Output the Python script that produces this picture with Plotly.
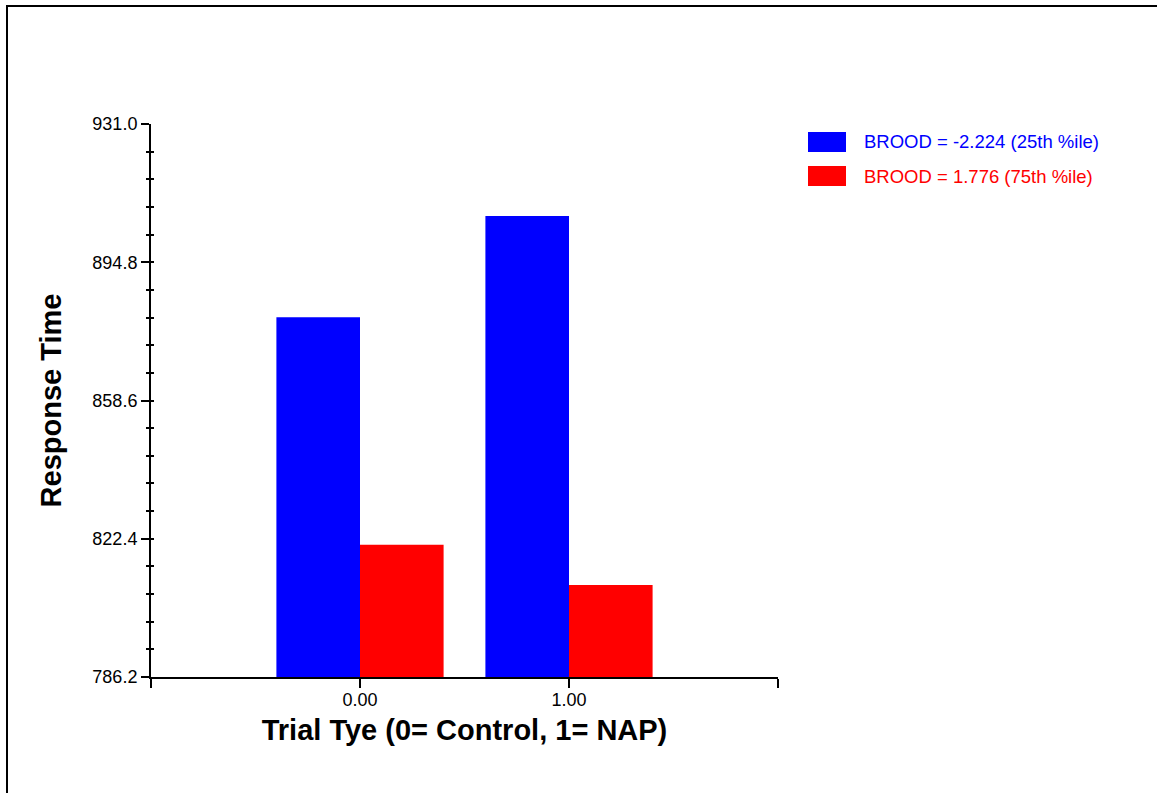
import plotly.graph_objects as go

# Data
trial_type = [0, 1]
tick_labels = ["0.00", "1.00"]
brood_low = [880.4, 906.9]    # BROOD = -2.224 (25th %ile)
brood_high = [820.8, 810.3]   # BROOD = 1.776 (75th %ile)
series_names = ["BROOD = -2.224 (25th %ile)", "BROOD = 1.776 (75th %ile)"]
series_colors = ["#0000FF", "#FF0000"]

y_min, y_max = 786.2, 931.0
y_step = (y_max - y_min) / 4

W, H = 1157, 793
L, R, T, B = 151, 379, 124, 116
FONT = "Arial, Liberation Sans, sans-serif"


def px_x(px):
    return (px - L) / (W - L - R)


def px_y(py):
    return (H - B - py) / (H - T - B)


fig = go.Figure()
for vals, name, col in zip([brood_low, brood_high], series_names, series_colors):
    fig.add_trace(go.Bar(x=trial_type, y=vals, name=name, marker_color=col,
                         marker_line_width=0, showlegend=False))

# invisible trace on the overlay axis so the inside ticks get drawn
fig.add_trace(go.Scatter(x=[trial_type[0]], y=[y_min], yaxis="y2", mode="markers",
                         marker=dict(opacity=0), showlegend=False, hoverinfo="skip"))

fig.update_layout(
    width=W, height=H,
    margin=dict(l=L, r=R, t=T, b=B),
    paper_bgcolor="white", plot_bgcolor="white",
    barmode="group", bargap=0.2, bargroupgap=0,
    font=dict(family=FONT, size=18, color="black"),
    xaxis=dict(
        range=[-1, 2], tickvals=[-1, 0, 1, 2], ticktext=[""] + tick_labels + [""],
        ticks="outside", ticklen=9, tickwidth=2, tickcolor="black",
        showline=True, linewidth=2, linecolor="black", showgrid=False, zeroline=False,
        tickfont=dict(size=18), ticklabelstandoff=-4,
        title=dict(text="<b>Trial Tye (0= Control, 1= NAP)</b>", font=dict(size=29), standoff=11),
    ),
    yaxis=dict(
        range=[y_min, y_max], tick0=y_min, dtick=y_step, tickformat=".1f",
        ticks="outside", ticklen=8, tickwidth=2, tickcolor="black",
        minor=dict(dtick=y_step / 5, tick0=y_min, ticks="outside", ticklen=3,
                   tickwidth=2, tickcolor="black"),
        showline=True, linewidth=2, linecolor="black", showgrid=False, zeroline=False,
        tickfont=dict(size=18),
        title=dict(text="<b>Response Time</b>", font=dict(size=29), standoff=22),
    ),
    yaxis2=dict(
        overlaying="y", side="left", range=[y_min, y_max], tick0=y_min, dtick=y_step / 5,
        ticks="inside", ticklen=3, tickwidth=2, tickcolor="black",
        showticklabels=False, showline=False, showgrid=False, zeroline=False,
    ),
)

# frame lines along the top and left edges of the page
fig.add_shape(type="line", xref="paper", yref="paper",
              x0=px_x(6), x1=px_x(W + 5), y0=px_y(6), y1=px_y(6),
              line=dict(color="black", width=2))
fig.add_shape(type="line", xref="paper", yref="paper",
              x0=px_x(7), x1=px_x(7), y0=px_y(5), y1=px_y(H + 5),
              line=dict(color="black", width=2))

# legend: colour swatches with matching coloured labels
for i, (name, col) in enumerate(zip(series_names, series_colors)):
    top = 132 + i * 34
    fig.add_shape(type="rect", xref="paper", yref="paper",
                  x0=px_x(808), x1=px_x(846), y0=px_y(top), y1=px_y(top + 20),
                  fillcolor=col, line=dict(width=0))
    fig.add_annotation(xref="paper", yref="paper", x=px_x(862), y=px_y(top + 10),
                       text=name, showarrow=False, xanchor="left", yanchor="middle",
                       font=dict(family=FONT, size=18.5, color=col))

fig.write_html("out.html")
